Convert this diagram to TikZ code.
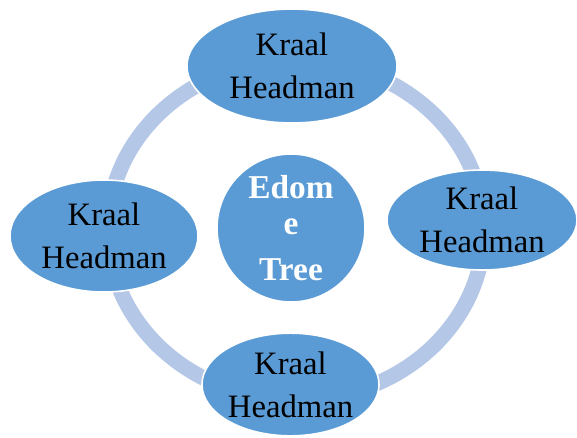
\documentclass[tikz,border=0pt]{standalone}
\usepackage{fontspec}
\setmainfont{Liberation Serif}
\usepackage{tikz}
\usetikzlibrary{shapes.geometric}
\definecolor{headblue}{HTML}{5B9BD5}
\definecolor{ringblue}{HTML}{B4C7E7}

\begin{document}
\begin{tikzpicture}[x=0.75pt, y=-0.75pt,
    headman/.style={ellipse, draw=white, line width=1.2pt, fill=headblue, inner sep=0pt, align=center, font=\fontsize{24.5}{32}\selectfont},
    tree/.style={circle, draw=white, line width=1.2pt, fill=headblue, text=white, align=center, inner sep=0pt, font=\fontsize{25}{27}\selectfont\bfseries}]
        \def\ringlw{11.5pt}
        \useasboundingbox (0,0) rectangle (577,437);

        % ring behind the headmen
        \draw[ringblue, line width=\ringlw] (296,230) ellipse [x radius=188, y radius=170];

        \node(tree) [tree, minimum size=111pt] at (291,228) {Edom\\ e\\[8pt] Tree};

        \node(top) [headman, minimum width=157.5pt, minimum height=85.5pt] at (292,66) {Kraal\\ Headman};
        \node(right) [headman, minimum width=142.5pt, minimum height=75pt] at (482,220) {Kraal\\ Headman};
        \node(bottom) [headman, minimum width=131pt, minimum height=77pt] at (290.5,384.5) {Kraal\\ Headman};
        \node(left) [headman, minimum width=141pt, minimum height=84pt] at (104,236) {Kraal\\ Headman};
    \end{tikzpicture}
\end{document}
